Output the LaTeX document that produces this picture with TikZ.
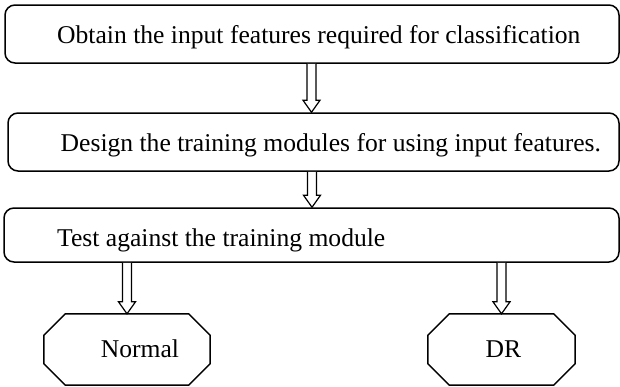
\documentclass[tikz,border=0pt]{standalone}
\usepackage{fontspec}
\setmainfont{Liberation Serif}
\usetikzlibrary{calc}

% Hollow block arrow drawn straight down from #1 to #2 (x taken from #1)
\newcommand\hollowarrow[2]{%
  \draw[arrowline] let \p1=(#1), \p2=(#2) in
    (\x1-4.5pt,\y1) -- (\x1-4.5pt,\y2+12pt) -- (\x1-8.5pt,\y2+12pt)
    -- (\x1,\y2) -- (\x1+8.5pt,\y2+12pt) -- (\x1+4.5pt,\y2+12pt)
    -- (\x1+4.5pt,\y1);%
}

% Octagonal outline around the frame of node #1, corners cut by #2
\newcommand\octoutline[2]{%
  \draw[octline]
    ($(#1.north west)+(#2,0)$) -- ($(#1.north east)+(-#2,0)$)
    -- ($(#1.north east)+(0,#2)$) -- ($(#1.south east)+(0,-#2)$)
    -- ($(#1.south east)+(-#2,0)$) -- ($(#1.south west)+(#2,0)$)
    -- ($(#1.south west)+(0,-#2)$) -- ($(#1.north west)+(0,#2)$) -- cycle;%
}

\tikzset{
  stepbox/.style={draw, line width=1.5pt, rounded corners=10pt,
    rectangle, inner sep=0pt},
  outcome/.style={rectangle, inner sep=0pt, minimum height=71pt},
  octline/.style={line width=1.5pt, line join=miter},
  lbl/.style={inner sep=0pt, font=\fontsize{25.6}{30}\selectfont},
  arrowline/.style={draw, line width=1.2pt, fill=white, line join=miter}
}

\begin{document}
\begin{tikzpicture}[x=1pt, y=-1pt]
  \useasboundingbox (0,0) rectangle (620,386);

  % process steps
  \node[stepbox, minimum width=614pt, minimum height=58pt] (b1) at (312,34) {};
  \node[stepbox, minimum width=611pt, minimum height=58pt] (b2) at (313.5,142) {};
  \node[stepbox, minimum width=615pt, minimum height=54pt] (b3) at (311.5,235) {};

  \node[lbl, anchor=base west] (t1) at (57,43)
    {Obtain the input features required for classification};
  \node[lbl, anchor=base west] (t2) at (60.5,151)
    {Design the training modules for using input features.};
  \node[lbl, anchor=base west] (t3) at (57,246.5)
    {Test against the training module};

  % outcomes
  \node[outcome, minimum width=166pt] (n1) at (127,349.5) {};
  \node[outcome, minimum width=147pt] (n2) at (501.5,349.5) {};
  \octoutline{n1}{21.5}
  \octoutline{n2}{21.5}
  \node[lbl, anchor=base] (n1t) at (140,357) {Normal};
  \node[lbl, anchor=base] (n2t) at (503.5,357) {DR};

  % flow
  \coordinate (a1) at ($(b1.south)+(-0.5,0)$);
  \hollowarrow{a1}{b2.north}
  \coordinate (a2) at ($(b2.south)+(-1.5,0)$);
  \hollowarrow{a2}{b3.north}
  \hollowarrow{b3.south -| n1.north}{n1.north}
  \hollowarrow{b3.south -| n2.north}{n2.north}
\end{tikzpicture}
\end{document}
